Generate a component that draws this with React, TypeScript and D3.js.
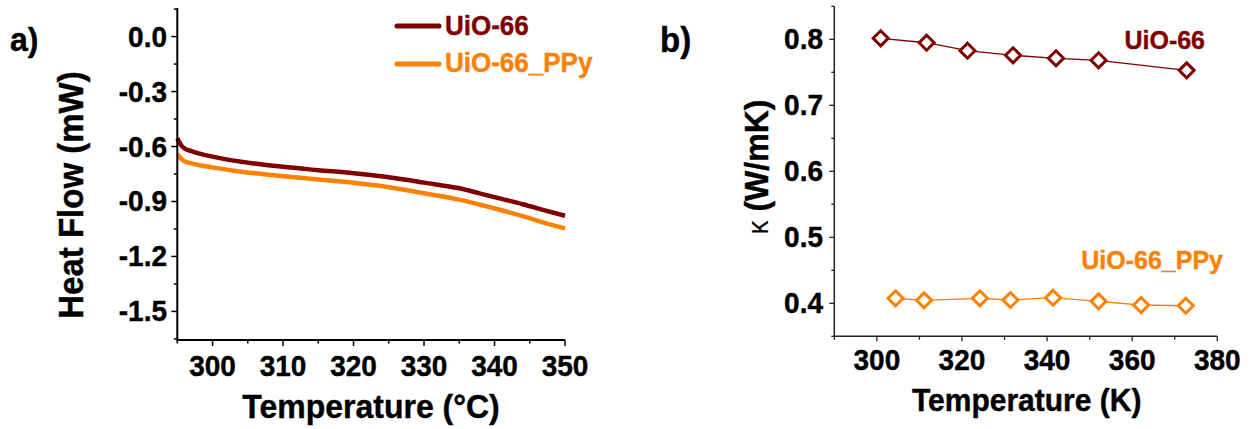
import * as d3 from "d3";
import React from "react";

// panel a: DSC heat flow curves
const tempA = [295, 295.5, 296, 297, 298, 300, 303, 306, 310, 315, 320, 325, 330, 335, 338, 341, 344, 347, 350];
const flowUio = [-0.555, -0.59, -0.61, -0.625, -0.637, -0.655, -0.677, -0.693, -0.711, -0.729, -0.746, -0.768, -0.797, -0.828, -0.857, -0.886, -0.915, -0.947, -0.978];
const flowPpy = [-0.64, -0.665, -0.68, -0.692, -0.701, -0.714, -0.732, -0.746, -0.762, -0.78, -0.798, -0.822, -0.855, -0.89, -0.918, -0.948, -0.98, -1.015, -1.047];
const aXTicks = [300, 310, 320, 330, 340, 350];
const aYTicks = [0, -0.3, -0.6, -0.9, -1.2, -1.5];
const aYLabels = ["0.0", "-0.3", "-0.6", "-0.9", "-1.2", "-1.5"];

// panel b: thermal conductivity
const tempBUio = [300.9, 311.7, 321.3, 332.0, 342.1, 352.1, 372.8];
const kappaUio = [0.8015, 0.7948, 0.7827, 0.7758, 0.7712, 0.7682, 0.753];
const tempBPpy = [304.4, 311.1, 324.2, 331.4, 341.4, 352.1, 362.1, 372.6];
const kappaPpy = [0.4076, 0.4045, 0.4076, 0.405, 0.4085, 0.403, 0.3974, 0.3963];
const bXTicks = [300, 320, 340, 360, 380];
const bYTicks = [0.4, 0.5, 0.6, 0.7, 0.8];

const seriesNames = ["UiO-66", "UiO-66_PPy"];

const RED = "#800000";
const ORANGE = "#ff8000";
const FONT = "'Liberation Sans', Arial, sans-serif";

// bold label, a little heavier like the bitmap original
function Lbl({ x, y, size, anchor = "start", fill = "#000", children, rotate = 0 }: any) {
  return (
    <text transform={`translate(${x},${y}) rotate(${rotate}) scale(1,1.06)`} textAnchor={anchor}
      fontSize={size} fontWeight="bold" fontFamily={FONT} fill={fill} stroke={fill} strokeWidth={0.4}>
      {children}
    </text>
  );
}

function PanelA() {
  const x = d3.scaleLinear().domain([295, 350]).range([177.3, 565]);
  const y = d3.scaleLinear().domain([-1.656, 0.156]).range([340, 8]);
  const line = d3.line<number>()
    .x((d, i) => x(tempA[i]))
    .y(d => y(d))
    .curve(d3.curveMonotoneX);
  const minorX = d3.range(295, 351, 5).filter(v => !aXTicks.includes(v));
  const minorY = [0.15, -0.15, -0.45, -0.75, -1.05, -1.35, -1.65];
  const [x0, x1] = x.range();
  const [y0, y1] = y.range();
  return (
    <g>
      <Lbl x={10} y={51} size={32}>a)</Lbl>
      <path d={line(flowUio) || ""} fill="none" stroke={RED} strokeWidth={4.5} />
      <path d={line(flowPpy) || ""} fill="none" stroke={ORANGE} strokeWidth={4.5} />
      {/* axes */}
      <line x1={x0} x2={x1} y1={y0} y2={y0} stroke="#000" strokeWidth={2} />
      <line x1={x0} x2={x0} y1={y0 + 1} y2={y1} stroke="#000" strokeWidth={2} />
      {aXTicks.map(t => (
        <g key={t}>
          <line x1={x(t)} x2={x(t)} y1={y0} y2={y0 + 6} stroke="#000" strokeWidth={1.5} />
          <Lbl x={x(t)} y={376} anchor="middle" size={28}>{t}</Lbl>
        </g>
      ))}
      {minorX.map(t => (
        <line key={t} x1={x(t)} x2={x(t)} y1={y0} y2={y0 + 3.5} stroke="#000" strokeWidth={1.5} />
      ))}
      {aYTicks.map((t, i) => (
        <g key={t}>
          <line x1={x0 - 6} x2={x0} y1={y(t)} y2={y(t)} stroke="#000" strokeWidth={1.5} />
          <Lbl x={167} y={y(t) + 10} anchor="end" size={28}>{aYLabels[i]}</Lbl>
        </g>
      ))}
      {minorY.map(t => (
        <line key={t} x1={x0 - 3.5} x2={x0} y1={y(t)} y2={y(t)} stroke="#000" strokeWidth={1.5} />
      ))}
      <Lbl x={83} y={195} rotate={-90} anchor="middle" size={33}>Heat Flow (mW)</Lbl>
      <Lbl x={371} y={418} anchor="middle" size={32}>Temperature (°C)</Lbl>
      {/* legend */}
      {[RED, ORANGE].map((c, i) => (
        <g key={c}>
          <line x1={397} x2={439} y1={26 + i * 38} y2={26 + i * 38} stroke={c} strokeWidth={5} strokeLinecap="round" />
          <Lbl x={445} y={34.5 + i * 37} size={26} fill={c}>{seriesNames[i]}</Lbl>
        </g>
      ))}
    </g>
  );
}

function Diamonds({ xs, ys, color, x, y }: any) {
  const pts = xs.map((t: number, i: number) => [x(t), y(ys[i])]);
  const line = d3.line();
  const s = 7.5;
  return (
    <g>
      <path d={line(pts) || ""} fill="none" stroke={color} strokeWidth={1.3} />
      {pts.map(([px, py]: number[], i: number) => (
        <path key={i} d={`M${px},${py - s}L${px + s},${py}L${px},${py + s}L${px - s},${py}Z`}
          fill="#fff" stroke={color} strokeWidth={3} strokeLinejoin="miter" />
      ))}
    </g>
  );
}

function PanelB() {
  const x = d3.scaleLinear().domain([290, 380]).range([834.3, 1217.3]);
  const y = d3.scaleLinear().domain([0.35, 0.85]).range([336.3, 6.3]);
  const [x0, x1] = x.range();
  const [y0, y1] = y.range();
  const minorX = [290, 310, 330, 350, 370];
  const minorY = [0.35, 0.45, 0.55, 0.65, 0.75, 0.85];
  const ax = "#222";
  return (
    <g>
      <Lbl x={660} y={51.5} size={33}>b)</Lbl>
      <line x1={x0} x2={x1} y1={y0} y2={y0} stroke={ax} strokeWidth={1.5} />
      <line x1={x0} x2={x0} y1={y0} y2={y1} stroke={ax} strokeWidth={1.5} />
      {bXTicks.map(t => (
        <g key={t}>
          <line x1={x(t)} x2={x(t)} y1={y0} y2={y0 + 5} stroke={ax} strokeWidth={1.3} />
          <Lbl x={x(t)} y={370} anchor="middle" size={28}>{t}</Lbl>
        </g>
      ))}
      {minorX.map(t => (
        <line key={t} x1={x(t)} x2={x(t)} y1={y0} y2={y0 + 3.5} stroke={ax} strokeWidth={1.3} />
      ))}
      {bYTicks.map(t => (
        <g key={t}>
          <line x1={x0 - 5} x2={x0} y1={y(t)} y2={y(t)} stroke={ax} strokeWidth={1.3} />
          <Lbl x={823} y={y(t) + 10} anchor="end" size={28}>{t.toFixed(1)}</Lbl>
        </g>
      ))}
      {minorY.map(t => (
        <line key={t} x1={x0 - 3} x2={x0} y1={y(t)} y2={y(t)} stroke={ax} strokeWidth={1.3} />
      ))}
      <Diamonds xs={tempBUio} ys={kappaUio} color={RED} x={x} y={y} />
      <Diamonds xs={tempBPpy} ys={kappaPpy} color={ORANGE} x={x} y={y} />
      <Lbl x={1205} y={48.5} anchor="end" size={25} fill={RED}>{seriesNames[0]}</Lbl>
      <Lbl x={1223} y={269} anchor="end" size={25} fill={ORANGE}>{seriesNames[1]}</Lbl>
      <text transform="translate(768,167) rotate(-90) scale(1,1.06)" textAnchor="middle" fontSize={32} fontFamily={FONT}>
        <tspan fontWeight="normal" fontSize={28}>κ</tspan>
        <tspan fontWeight="bold" stroke="#000" strokeWidth={0.4}> (W/mK)</tspan>
      </text>
      <Lbl x={1026.7} y={411} anchor="middle" size={30}>Temperature (K)</Lbl>
    </g>
  );
}

export default function App() {
  return (
    <svg width={1252} height={429} style={{ position: "absolute", left: 0, top: 0, background: "#fff" }}>
      <rect width={1252} height={429} fill="#fff" />
      <PanelA />
      <PanelB />
    </svg>
  );
}
